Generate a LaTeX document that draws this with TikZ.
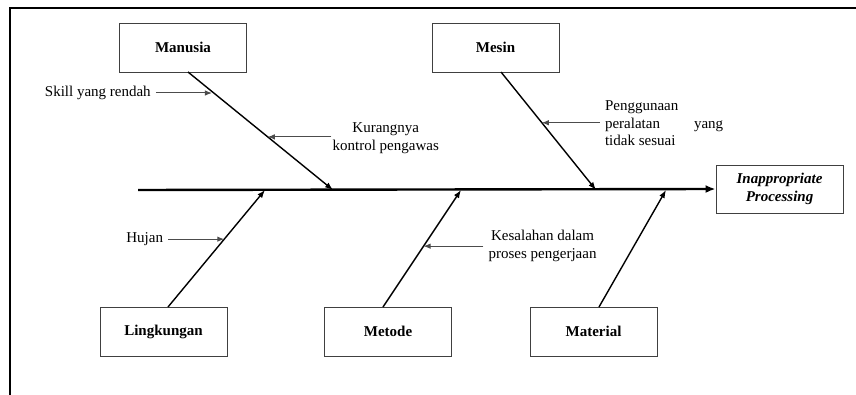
\documentclass[tikz,border=0pt]{standalone}
\usepackage{fontspec}
\setmainfont{Liberation Serif}
\usetikzlibrary{arrows.meta,calc}
\begin{document}
\begin{tikzpicture}[x=1pt,y=-1pt,
  catbox/.style={draw=black!75,line width=0.9pt,minimum width=127pt,minimum height=49pt,inner sep=0pt,font=\fontsize{15}{17.5}\selectfont\bfseries},
  lbl/.style={inner sep=1pt,font=\fontsize{15}{17.5}\selectfont},
  bone/.style={line width=1.4pt,-{Latex[length=8pt,width=6pt]}},
  spine/.style={line width=2.4pt,-{Latex[length=10pt,width=8pt]}},
  sub/.style={line width=1pt,draw=black!70,-{Latex[length=7pt,width=5.5pt]}},
  frame/.style={line width=2.4pt}]
\useasboundingbox (0,0) rectangle (856,395);
\draw[frame] (10,395) -- (10,8) -- (856,8);

% boxes
\node[catbox] (man) at (183,47.5) {Manusia};
\node[catbox] (mes) at (495.5,47.5) {Mesin};
\node[catbox] (lin) at (163.5,331.5) {Lingkungan};
\node[catbox] (met) at (388,331.5) {Metode};
\node[catbox] (mat) at (593.5,331.5) {Material};
\node[catbox,minimum height=48pt,align=center,font=\fontsize{15}{17.5}\selectfont\bfseries\itshape] (eff) at (779.5,189) {Inappropriate\\Processing};

% spine
\coordinate (tail) at (138,190);
\draw[spine] (tail) -- (eff.west);

% bone start/end points
\coordinate (m1) at (188,72);   \coordinate (s1) at (333,190);
\coordinate (m2) at (501,72);   \coordinate (s2) at (596,190);
\coordinate (l1) at (168,307);  \coordinate (s3) at (265,190);
\coordinate (l2) at (383,307);  \coordinate (s4) at (461,190);
\coordinate (l3) at (599,307);  \coordinate (s5) at (666,190);

\draw[bone] (m1) -- (s1);
\draw[bone] (m2) -- (s2);
\draw[bone] (l1) -- (s3);
\draw[bone] (l2) -- (s4);
\draw[bone] (l3) -- (s5);

% sub causes
\coordinate (p1) at ($(m1)!0.165!(s1)$);
\node[lbl,anchor=east] (skill) at ($(p1|-0,93)+(-60,0)$) {Skill yang rendah};
\draw[sub] ([xshift=4pt]skill.east) -- (skill.east-|p1);

\coordinate (p2) at ($(m1)!0.55!(s1)$);
\node[lbl,align=center] (kur) at ($(p2)+(118,1.5)$) {Kurangnya\\kontrol pengawas};
\draw[sub] (kur.west|-p2) -- (p2);

\coordinate (p3) at ($(m2)!0.43!(s2)$);
\node[lbl,align=left,anchor=west] (pen) at ($(p3)+(62,0.5)$) {Penggunaan\\peralatan\hspace{34pt}yang\\tidak sesuai};
\draw[sub] ([xshift=-4pt]pen.west|-p3) -- (p3);

\coordinate (p4) at ($(l1)!0.58!(s3)$);
\node[lbl,anchor=east] (huj) at ($(p4)+(-60,0)$) {Hujan};
\draw[sub] ([xshift=4pt]huj.east) -- (huj.east-|p4);

\coordinate (p5) at ($(l2)!0.52!(s4)$);
\node[lbl,align=center] (kes) at ($(p5)+(119,0)$) {Kesalahan dalam\\proses pengerjaan};
\draw[sub] ([xshift=-4pt]kes.west|-p5) -- (p5);
\end{tikzpicture}
\end{document}
